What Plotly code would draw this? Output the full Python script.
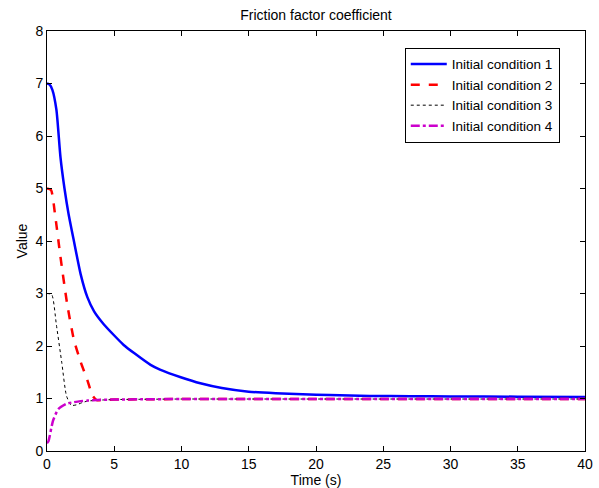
import plotly.graph_objects as go

# Friction factor estimate for four initial conditions
t_ic1 = [0, 0.2, 0.4, 0.7, 1.0, 1.3, 1.6, 2.0, 2.5, 3.0, 3.5, 4.2, 5.0, 5.7, 6.5,
         7.7, 8.4, 10, 11.4, 13, 15, 17, 19, 21, 24, 27, 30, 35, 40]
v_ic1 = [7.0, 6.98, 6.88, 6.5, 5.6, 5.0, 4.52, 4.0, 3.37, 2.93, 2.66, 2.42, 2.2, 2.02, 1.86,
         1.64, 1.55, 1.4, 1.29, 1.2, 1.13, 1.1, 1.08, 1.065, 1.05, 1.045, 1.04, 1.035, 1.03]

t_ic2 = [0, 0.3, 0.6, 1.0, 1.5, 2.0, 2.5, 3.0, 3.4, 3.7, 4.2, 5, 7, 10, 15, 20, 25, 30, 35, 40]
v_ic2 = [5.0, 4.97, 4.5, 3.7, 2.8, 2.12, 1.7, 1.35, 1.05, 0.97, 0.975, 0.98, 0.985, 0.99,
         0.99, 0.99, 0.99, 0.99, 0.99, 0.99]

t_ic3 = [0, 0.35, 0.7, 1.1, 1.45, 1.8, 2.2, 2.6, 3.0, 4, 5, 7, 10, 15, 20, 25, 30, 35, 40]
v_ic3 = [3.0, 2.98, 2.4, 1.68, 1.05, 0.87, 0.88, 0.92, 0.95, 0.97, 0.98, 0.985, 0.99,
         0.99, 0.99, 0.99, 0.99, 0.99, 0.99]

t_ic4 = [0, 0.1, 0.45, 0.85, 1.45, 2.0, 2.5, 3.0, 4, 5, 7, 10, 15, 20, 25, 30, 35, 40]
v_ic4 = [0.15, 0.18, 0.58, 0.8, 0.9, 0.93, 0.95, 0.96, 0.975, 0.98, 0.985, 0.99,
         0.99, 0.99, 0.99, 0.99, 0.99, 0.99]

series = [
    ("Initial condition 1", t_ic1, v_ic1, "#0000ff", "solid", 2.5),
    ("Initial condition 2", t_ic2, v_ic2, "#ff0000", "dash", 2.5),
    ("Initial condition 3", t_ic3, v_ic3, "#000000", "dot", 1),
    ("Initial condition 4", t_ic4, v_ic4, "#cc00cc", "dashdot", 2.5),
]

FONT = "Liberation Sans, Arial, Helvetica, sans-serif"
W, H = 599, 488

fig = go.Figure()
for name, t, v, color, dash, width in series:
    fig.add_trace(go.Scatter(
        x=t, y=v, mode="lines", name=name,
        line=dict(color=color, dash=dash, width=width, shape="spline", smoothing=0.6),
    ))

axis_common = dict(
    showgrid=False, zeroline=False, showline=True, linecolor="black", linewidth=1,
    mirror="ticks", ticks="inside", ticklen=5, tickcolor="black", automargin=False,
    tickfont=dict(size=14, color="black", family=FONT),
)

fig.update_layout(
    width=W, height=H,
    paper_bgcolor="white", plot_bgcolor="white",
    margin=dict(l=47, r=14, t=31, b=37),
    title=dict(text="Friction factor coefficient", x=316 / W, xanchor="center",
               y=1 - 15 / H, yanchor="middle", font=dict(size=14, color="black", family=FONT)),
    font=dict(family=FONT, color="black"),
    showlegend=True,
    legend=dict(x=0.665, y=0.96, xanchor="left", yanchor="top",
                bordercolor="black", borderwidth=1, bgcolor="white",
                font=dict(size=13.5, color="black", family=FONT),
                tracegroupgap=0, itemwidth=36),
)
fig.update_xaxes(range=[0, 40], dtick=5, tick0=0,
                 title=dict(text="Time (s)", standoff=0, font=dict(size=14, family=FONT)),
                 **axis_common)
fig.update_yaxes(range=[0, 8], dtick=1, tick0=0,
                 title=dict(text="Value", standoff=4, font=dict(size=14, family=FONT)),
                 **axis_common)

# the page's default body margin would shift the figure by 8px
fig.write_html("out.html", config={"displayModeBar": False},
               post_script="document.body.style.margin='0';")
